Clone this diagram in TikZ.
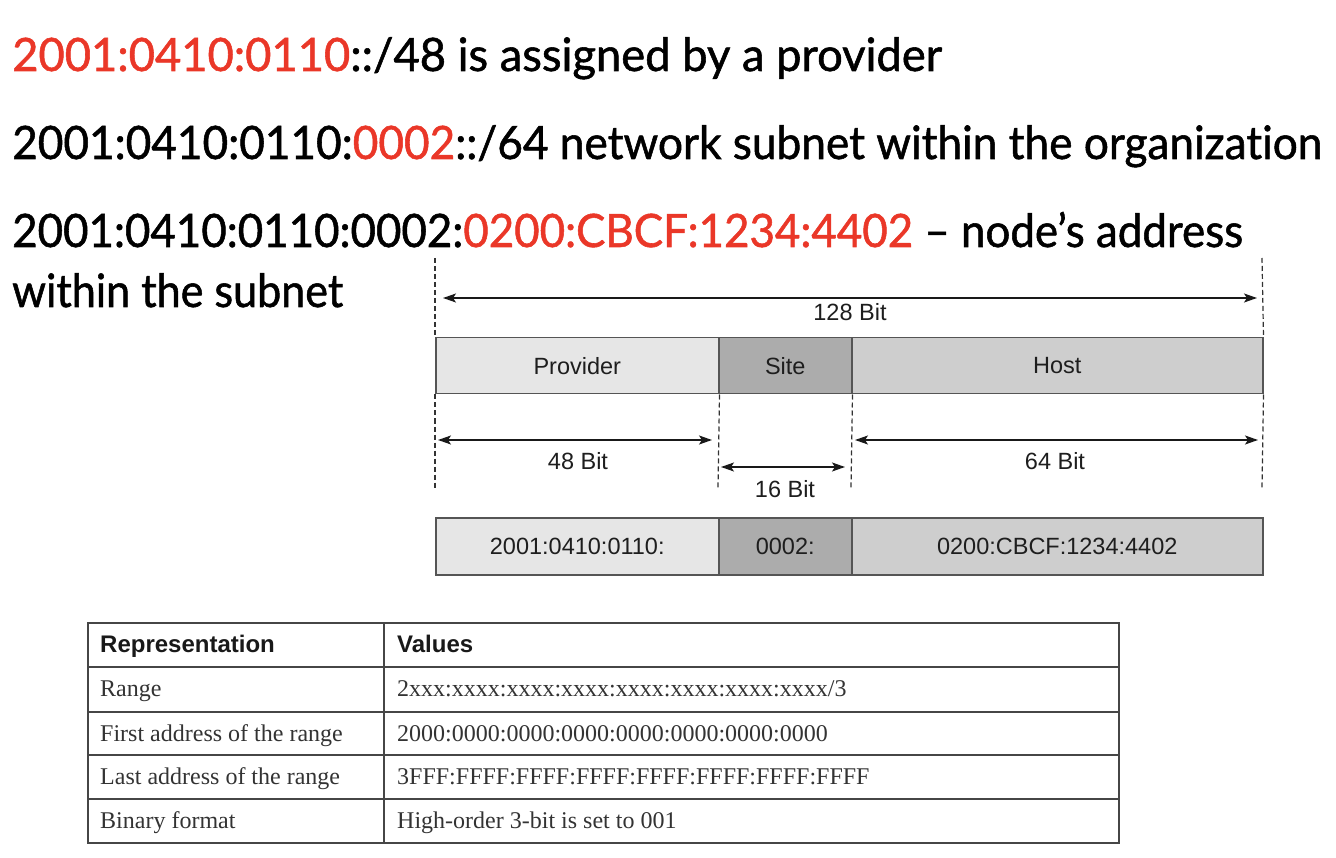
\documentclass[tikz,border=0pt]{standalone}
\usepackage{fontspec}
\usepackage{graphicx}
\setmainfont{Liberation Serif}
\newfontfamily\headfont[FakeBold=1.2,Ligatures=NoCommon]{Lato}
\newfontfamily\arialfont{Liberation Sans}
\usetikzlibrary{arrows.meta}
\definecolor{redtxt}{RGB}{234,55,40}
\definecolor{provfill}{RGB}{230,230,230}
\definecolor{sitefill}{RGB}{172,172,172}
\definecolor{hostfill}{RGB}{206,206,206}
\definecolor{boxline}{RGB}{85,85,85}
\definecolor{labtxt}{RGB}{30,30,30}
\definecolor{tabline}{RGB}{70,70,70}
\begin{document}
\begin{tikzpicture}[x=1pt,y=-1pt,
  headline/.style={anchor=base west, inner sep=0pt, font=\headfont\fontsize{46}{50}\selectfont},
  seg/.style={draw=boxline, line width=1.5pt, anchor=north west, inner sep=0pt,
     minimum height=56pt, text=labtxt, font=\arialfont\fontsize{23.5}{26}\selectfont},
  dashline/.style={draw=black!80, line width=1.2pt, dash pattern=on 5pt off 3pt},
  dimarrow/.style={draw=black!90, line width=1.5pt,
     {Stealth[length=13pt,width=9pt,inset=3pt]}-{Stealth[length=13pt,width=9pt,inset=3pt]}},
  dimlabel/.style={anchor=base, inner sep=0pt, text=labtxt, font=\arialfont\fontsize{23.5}{26}\selectfont},
  tabrule/.style={draw=tabline, line width=1.8pt},
  thead/.style={anchor=base west, inner sep=0pt, font=\arialfont\bfseries\fontsize{24}{26}\selectfont, text=black!90},
  tcell/.style={anchor=base west, inner sep=0pt, font=\fontsize{24}{26}\selectfont, text=black!80}
]
\useasboundingbox (0,0) rectangle (1336,858);

% heading lines
\node[headline] (l1) at (12,71) {\resizebox{930pt}{\height}{\textcolor{redtxt}{2001:0410:0110}::/48 is assigned by a provider}};
\node[headline] (l2) at (12,159) {\resizebox{1310pt}{\height}{2001:0410:0110:\textcolor{redtxt}{0002}::/64 network subnet within the organization}};
\node[headline] (l3) at (12,247) {\resizebox{1231pt}{\height}{2001:0410:0110:0002:\textcolor{redtxt}{0200:CBCF:1234:4402} – node’s address}};
\node[headline] (l4) at (12,307) {\resizebox{331pt}{\height}{within the subnet}};

% first row of segments
\node[seg, fill=provfill, minimum width=283pt] (prov) at (435,337) {Provider};
\node[seg, fill=sitefill, minimum width=133pt] (site) at (718,337) {Site};
\node[seg, fill=hostfill, minimum width=411pt] (host) at (851,337) {Host};

% second row of segments
\node[seg, fill=provfill, minimum width=283pt, minimum height=57pt] (v1) at (435,517) {2001:0410:0110:};
\node[seg, fill=sitefill, minimum width=133pt, minimum height=57pt] (v2) at (718,517) {0002:};
\node[seg, fill=hostfill, minimum width=411pt, minimum height=57pt] (v3) at (851,517) {0200:CBCF:1234:4402};

% dashed guide lines
\coordinate (dLt) at (435,258);
\coordinate (dRt) at (1262,258);
\coordinate (dLb) at (435,488);
\coordinate (dMb) at (718,488);
\coordinate (dNb) at (851,488);
\coordinate (dRb) at (1262,488);
\draw[dashline] (dLt) -- (prov.north west);
\draw[dashline] (dRt) -- (host.north east);
\draw[dashline] (prov.south west) -- (dLb);
\draw[dashline] (prov.south east) -- (dMb);
\draw[dashline] (site.south east) -- (dNb);
\draw[dashline] (host.south east) -- (dRb);

% dimension arrows
\coordinate (a128l) at (443,298);
\coordinate (a128r) at (1257,298);
\coordinate (a48l) at (438,440);
\coordinate (a48r) at (712,440);
\coordinate (a16l) at (721,467);
\coordinate (a16r) at (845,467);
\coordinate (a64l) at (855,440);
\coordinate (a64r) at (1258,440);
\draw[dimarrow] (a128l) -- (a128r);
\draw[dimarrow] (a48l) -- (a48r);
\draw[dimarrow] (a16l) -- (a16r);
\draw[dimarrow] (a64l) -- (a64r);
\node[dimlabel] (t128) at (850,321) {128 Bit};
\node[dimlabel] (t48) at (578,469) {48 Bit};
\node[dimlabel] (t16) at (785,497) {16 Bit};
\node[dimlabel] (t64) at (1055,469) {64 Bit};

% table
\draw[tabrule] (88,623) rectangle (1119,843);
\draw[tabrule] (88,667) -- (1119,667);
\draw[tabrule] (88,712) -- (1119,712);
\draw[tabrule] (88,755) -- (1119,755);
\draw[tabrule] (88,799) -- (1119,799);
\draw[tabrule] (384,623) -- (384,843);

\node[thead] (h1) at (100,652) {Representation};
\node[thead] (h2) at (397,652) {Values};
\node[tcell] (r1a) at (100,696) {Range};
\node[tcell] (r1b) at (397,696) {2xxx:xxxx:xxxx:xxxx:xxxx:xxxx:xxxx:xxxx/3};
\node[tcell] (r2a) at (100,741) {First address of the range};
\node[tcell] (r2b) at (397,741) {2000:0000:0000:0000:0000:0000:0000:0000};
\node[tcell] (r3a) at (100,784) {Last address of the range};
\node[tcell] (r3b) at (397,784) {3FFF:FFFF:FFFF:FFFF:FFFF:FFFF:FFFF:FFFF};
\node[tcell] (r4a) at (100,828) {Binary format};
\node[tcell] (r4b) at (397,828) {High-order 3-bit is set to 001};
\end{tikzpicture}
\end{document}
